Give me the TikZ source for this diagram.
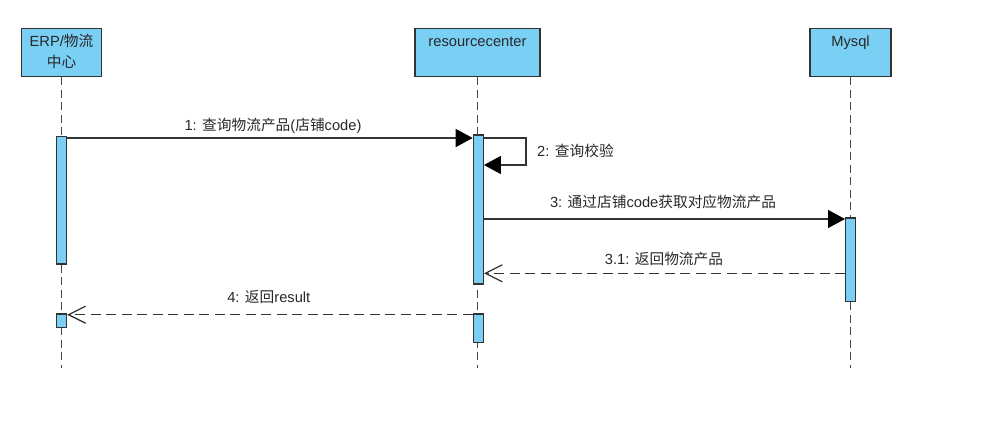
\documentclass[tikz,border=0pt]{standalone}
\usepackage{fontspec}
\setmainfont{Liberation Sans}
\newfontfamily\cjk{Noto Sans CJK SC}
\usetikzlibrary{arrows.meta,backgrounds}
\definecolor{boxblue}{RGB}{122,207,245}
\definecolor{ink}{RGB}{51,51,51}
\definecolor{txt}{RGB}{40,40,40}
\tikzset{
  lifebox/.style={draw=ink, fill=boxblue, line width=1.4pt, inner sep=0pt, align=center, text=txt,
    font=\fontsize{14.7}{21.6}\selectfont},
  actbox/.style={draw=ink, fill=boxblue, line width=1.2pt, inner sep=0pt, minimum width=10pt},
  lifeline/.style={draw=ink!90, line width=1.3pt, dash pattern=on 8pt off 4.5pt},
  callmsg/.style={draw=ink, line width=1.3pt, -{Triangle[length=17pt,width=18pt,fill=black,color=black]}},
  retmsg/.style={draw=ink, line width=1.3pt, dash pattern=on 10pt off 5.5pt,
    -{Straight Barb[length=17pt,width=17pt,line width=1.3pt]}},
  msglabel/.style={inner sep=0pt, text=txt, font=\fontsize{14.7}{17}\selectfont}
}
\begin{document}
\begin{tikzpicture}[x=1pt,y=-1pt]
\useasboundingbox (0,0) rectangle (994,424);
% lifeline heads
\node[lifebox, minimum width=80pt, minimum height=47.7pt] (erp) at (61.5,52.6)
  {\strut ERP/{\cjk 物流}\\\strut{\cjk 中心}};
\node[lifebox, minimum width=125pt, minimum height=47.7pt] (rc) at (477.5,52.6)
  {\strut resourcecenter\\\strut};
\node[lifebox, minimum width=81pt, minimum height=47.7pt] (my) at (850.5,52.6)
  {\strut Mysql\\\strut};
% lifeline ends
\coordinate (erpEnd) at (61.5,368);
\coordinate (rcEnd) at (477.5,368);
\coordinate (myEnd) at (850.5,368);
% activations
\node[actbox, minimum height=127.3pt] (erpA) at (61.5,200.35) {};
\node[actbox, minimum height=13.3pt] (erpB) at (61.5,320.7) {};
\node[actbox, minimum height=149pt] (rcA) at (478.3,209.5) {};
\node[actbox, minimum height=28.3pt] (rcB) at (478.3,328.2) {};
\node[actbox, minimum height=83.7pt] (myA) at (850.6,259.9) {};
\begin{scope}[on background layer]
\draw[lifeline] (erp.south) -- (erpEnd);
\draw[lifeline] (rc.south) -- (rcEnd);
\draw[lifeline] (my.south) -- (myEnd);
\end{scope}
% message rows
\coordinate (y1) at (0,138);
\coordinate (s1) at (526,138);
\coordinate (s2) at (526,165);
\coordinate (y2) at (0,165);
\coordinate (y3) at (0,219);
\coordinate (y31) at (0,273.3);
\coordinate (y4) at (0,314.7);
% messages
\draw[callmsg] (erpA.east |- y1) -- (rcA.west |- y1);
\draw[callmsg] (rcA.east |- y1) -- (s1) -- (s2) -- (rcA.east |- y2);
\draw[callmsg] (rcA.east |- y3) -- (myA.west |- y3);
\draw[retmsg] (myA.west |- y31) -- (rcA.east |- y31);
\draw[retmsg] (rcB.west |- y4) -- (erpB.east |- y4);
% labels
\node[msglabel] (l1) at (273,125.5) {1: {\cjk 查询物流产品}({\cjk 店铺}code)};
\node[msglabel, anchor=west] (l2) at (537,150.7) {2: {\cjk 查询校验}};
\node[msglabel] (l3) at (663,201.7) {3: {\cjk 通过店铺}code{\cjk 获取对应物流产品}};
\node[msglabel] (l31) at (664,259) {3.1: {\cjk 返回物流产品}};
\node[msglabel] (l4) at (268.8,297.3) {4: {\cjk 返回}result};
\end{tikzpicture}
\end{document}
